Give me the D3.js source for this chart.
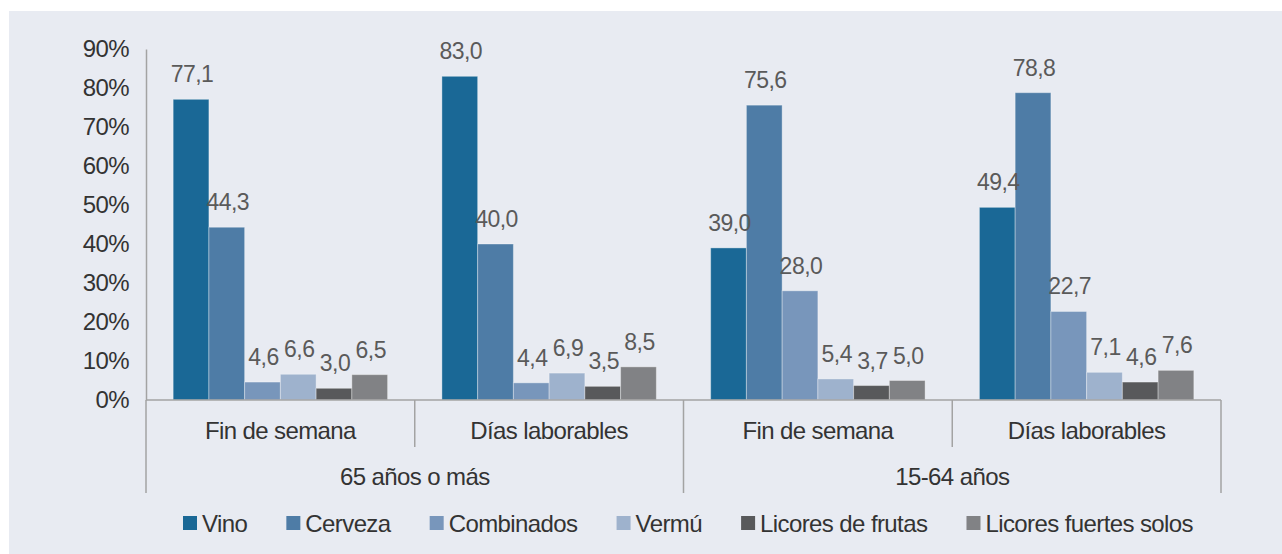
<!DOCTYPE html>
<html>
<head>
<meta charset="utf-8">
<script src="https://cdn.jsdelivr.net/npm/d3@7"></script>
<style>
  html, body { margin: 0; padding: 0; background: #fff; }
  svg text { font-family: "Liberation Sans", Arial, sans-serif; }
</style>
</head>
<body>
<div id="vis"></div>
<script>
// data

const ageGroups = ['65 años o más', '15-64 años']
const dayTypes = ['Fin de semana', 'Días laborables']
const drinks = ['Vino', 'Cerveza', 'Combinados', 'Vermú', 'Licores de frutas', 'Licores fuertes solos']

// one row per (age group, day type), one value per drink
const vino = [77.1, 83.0, 39.0, 49.4]
const cerveza = [44.3, 40.0, 75.6, 78.8]
const combinados = [4.6, 4.4, 28.0, 22.7]
const vermu = [6.6, 6.9, 5.4, 7.1]
const licoresFrutas = [3.0, 3.5, 3.7, 4.6]
const licoresFuertes = [6.5, 8.5, 5.0, 7.6]

const yTicks = [0, 10, 20, 30, 40, 50, 60, 70, 80, 90]

const colors = ['#1a6896', '#4e7ca6', '#7896bb', '#9eb2cd', '#58595b', '#818285']

;(function() {
  const svg_width = 1282,
        svg_height = 554,
        svg = d3.select('#vis').append('svg')

  svg.attr('width', svg_width)
    .attr('height', svg_height)

  svg.append('rect')
    .attr('x', 9)
    .attr('y', 11)
    .attr('width', svg_width - 9)
    .attr('height', svg_height - 11)
    .attr('fill', '#e8ebf2')

  const series = [vino, cerveza, combinados, vermu, licoresFrutas, licoresFuertes]
  const cells = []
  ageGroups.forEach((a, ai) => {
    dayTypes.forEach((d, di) => {
      const idx = ai * dayTypes.length + di
      cells.push({ key: idx, age: a, day: d, values: drinks.map((k, si) => ({ drink: k, v: series[si][idx] })) })
    })
  })

  const left = 146, right = 1221, base = 400, top = 49

  const y = d3.scaleLinear().domain([0, 90]).range([base, top])
  const x0 = d3.scaleBand().domain(cells.map(c => c.key)).range([left, right]).padding(0)
  const x1 = d3.scaleBand().domain(drinks).range([0, x0.bandwidth()]).paddingInner(0).paddingOuter(0.76)
  const color = d3.scaleOrdinal().domain(drinks).range(colors)
  const fmt = v => d3.format('.1f')(v).replace('.', ',')

  // y axis
  const yAxis = svg.append('g')
    .attr('transform', `translate(${left},0)`)
    .call(d3.axisLeft(y).tickValues(yTicks).tickSize(0).tickPadding(17).tickFormat(d => d + '%'))
  yAxis.select('.domain').attr('stroke', '#a3a3a3').attr('stroke-width', 1.5)
  yAxis.selectAll('text')
    .attr('font-size', 24)
    .attr('letter-spacing', -0.6)
    .attr('fill', '#333')
    .attr('dy', '0.3em')
    .style('font-family', '"Liberation Sans", Arial, sans-serif')

  // bars
  const groups = svg.append('g').selectAll('g')
    .data(cells)
    .join('g')
    .attr('transform', d => `translate(${x0(d.key)},0)`)

  groups.selectAll('rect')
    .data(d => d.values)
    .join('rect')
    .attr('x', d => x1(d.drink))
    .attr('y', d => y(d.v))
    .attr('width', x1.bandwidth())
    .attr('height', d => base - y(d.v))
    .attr('fill', d => color(d.drink))
    .attr('stroke', 'rgba(255,255,255,0.35)')
    .attr('stroke-width', 1)

  groups.selectAll('text')
    .data(d => d.values)
    .join('text')
    .attr('x', d => x1(d.drink) + x1.bandwidth() / 2 + 1)
    .attr('y', d => y(d.v) - 17)
    .attr('text-anchor', 'middle')
    .attr('font-size', 23)
    .attr('letter-spacing', -0.5)
    .attr('fill', '#5a5a5a')
    .text(d => fmt(d.v))

  // x axis (two levels)
  const axisColor = '#a3a3a3'
  svg.append('line')
    .attr('x1', left).attr('x2', right)
    .attr('y1', base).attr('y2', base)
    .attr('stroke', axisColor).attr('stroke-width', 1.5)

  const tickPositions = cells.map(c => x0(c.key)).concat([right])
  svg.append('g').selectAll('line')
    .data(tickPositions)
    .join('line')
    .attr('x1', d => d).attr('x2', d => d)
    .attr('y1', base)
    .attr('y2', (d, i) => i % dayTypes.length === 0 ? 493 : 447)
    .attr('stroke', axisColor).attr('stroke-width', 1.5)

  svg.append('g').selectAll('text')
    .data(cells)
    .join('text')
    .attr('x', d => x0(d.key) + x0.bandwidth() / 2)
    .attr('y', 439)
    .attr('text-anchor', 'middle')
    .attr('font-size', 24)
    .attr('letter-spacing', -0.6)
    .attr('fill', '#333')
    .text(d => d.day)

  svg.append('g').selectAll('text')
    .data(ageGroups)
    .join('text')
    .attr('x', (d, i) => (x0(i * dayTypes.length) + x0(i * dayTypes.length + dayTypes.length - 1) + x0.bandwidth()) / 2)
    .attr('y', 485)
    .attr('text-anchor', 'middle')
    .attr('font-size', 24)
    .attr('letter-spacing', -0.6)
    .attr('fill', '#333')
    .text(d => d)

  // legend
  const legendLeft = 183, legendRight = 1193, sq = 14, legendY = 532
  const legend = svg.append('g')
  const items = legend.selectAll('g')
    .data(drinks)
    .join('g')
  items.append('rect')
    .attr('width', sq).attr('height', sq)
    .attr('y', legendY - 16)
    .attr('fill', d => color(d))
  items.append('text')
    .attr('x', sq + 5)
    .attr('y', legendY)
    .attr('font-size', 24)
    .attr('letter-spacing', -0.6)
    .attr('fill', '#333')
    .text(d => d)

  const widths = []
  items.each(function() { widths.push(sq + 5 + d3.select(this).select('text').node().getComputedTextLength()) })
  const gap = (legendRight - legendLeft - d3.sum(widths)) / (drinks.length - 1)
  let cx = legendLeft
  items.attr('transform', (d, i) => {
    const t = `translate(${cx},0)`
    cx += widths[i] + gap
    return t
  })
}())
</script>
</body>
</html>
